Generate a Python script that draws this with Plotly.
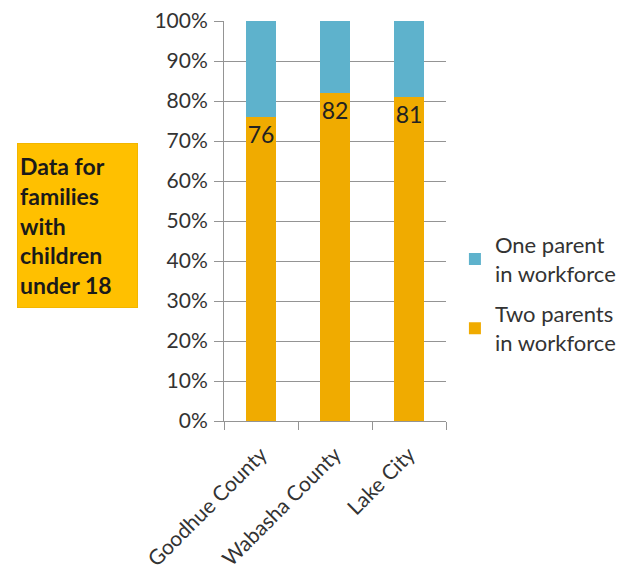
import plotly.graph_objects as go

categories = ["Goodhue County", "Wabasha County", "Lake City"]
two_parents = [76, 82, 81]
one_parent = [24, 18, 19]
two_labels = ["76", "82", "81"]
y_ticks = [0, 10, 20, 30, 40, 50, 60, 70, 80, 90, 100]
y_tick_text = [f"{v}%" for v in y_ticks]

FONT = "Lato"
BLUE = "#5EB2CC"
ORANGE = "#F0AB00"

fig = go.Figure()
fig.add_trace(go.Bar(
    x=categories, y=two_parents, name="Two parents<br>in workforce",
    legendgroup="two", legendrank=2,
    marker=dict(color=ORANGE, line=dict(width=0)),
    text=two_labels, textposition="inside", insidetextanchor="end",
    textfont=dict(family=FONT, size=23, color="#222222"),
    constraintext="none", hoverinfo="skip",
))
fig.add_trace(go.Bar(
    x=categories, y=one_parent, name="One parent<br>in workforce",
    legendgroup="one", legendrank=1,
    marker=dict(color=BLUE, line=dict(width=0)), hoverinfo="skip",
))

fig.update_layout(
    barmode="stack", bargap=0.595,
    width=619, height=565,
    margin=dict(l=216, r=181, t=13, b=152),
    paper_bgcolor="white", plot_bgcolor="white",
    font=dict(family=FONT, size=17, color="#333333"),
    showlegend=True,
    legend=dict(
        xref="container", yref="container",
        x=0.722, xanchor="left", y=0.618, yanchor="top",
        traceorder="grouped", tracegroupgap=9,
        font=dict(family=FONT, size=22, color="#333333"),
        itemsizing="constant", bgcolor="rgba(0,0,0,0)",
    ),
    annotations=[dict(
        text="Data for<br>families<br>with<br>children<br>under 18",
        xref="paper", yref="paper", x=-0.66, y=0.489,
        xanchor="center", yanchor="middle", showarrow=False, align="left",
        font=dict(family=FONT, size=23, color="#1a1a1a", weight="bold"),
        bgcolor="#FFC000", bordercolor="#F2B600", borderwidth=1, borderpad=2,
        width=115, height=159,
    )],
)
fig.update_yaxes(
    range=[0, 100], tickmode="array", tickvals=y_ticks, ticktext=y_tick_text,
    showgrid=True, gridcolor="#949494", gridwidth=1,
    showline=True, linecolor="#949494", linewidth=1,
    ticks="outside", ticklen=9, tickcolor="#949494", ticklabelstandoff=2,
    zeroline=False, automargin=False, ticklabeloverflow="allow",
    tickfont=dict(family=FONT, size=21, color="#333333"),
)
fig.update_xaxes(
    tickangle=-45, showline=True, linecolor="#949494", linewidth=1,
    ticks="outside", tickson="boundaries", ticklen=8, tickcolor="#949494",
    ticklabelstandoff=12, automargin=False, ticklabeloverflow="allow",
    tickfont=dict(family=FONT, size=21, color="#333333"),
)

fig.write_html("out.html")
